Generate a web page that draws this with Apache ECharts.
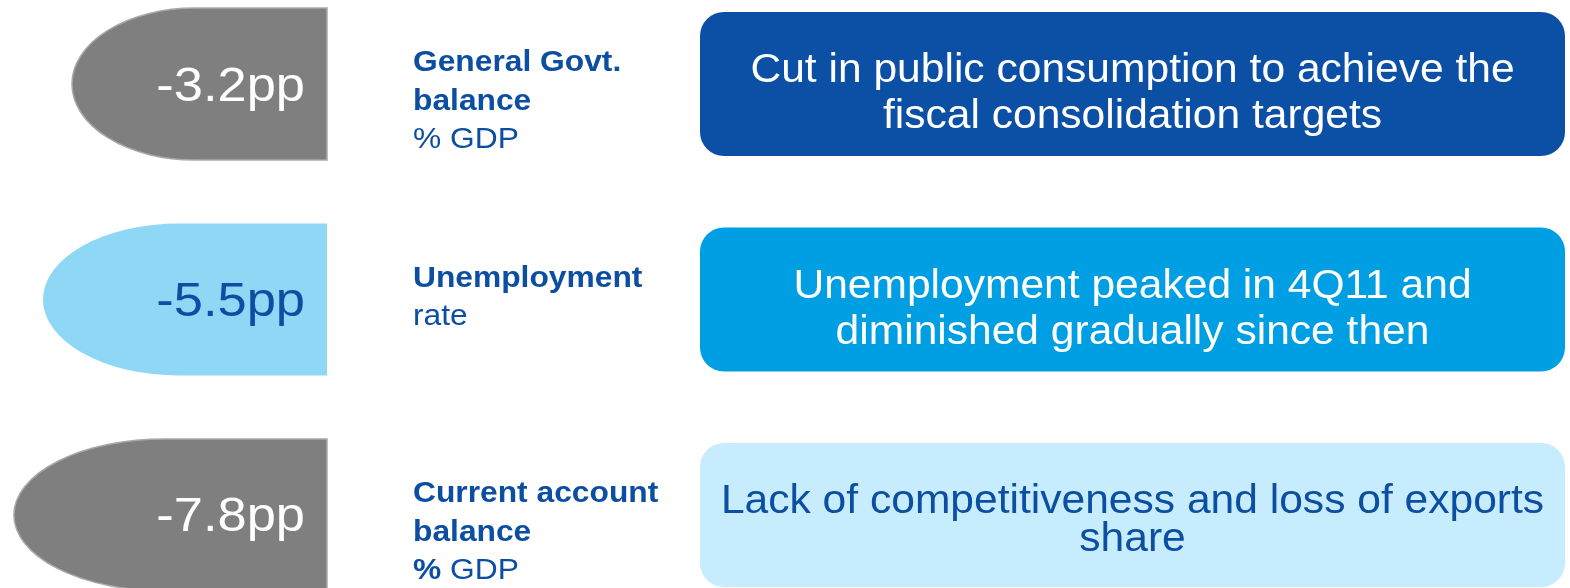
<!DOCTYPE html>
<html>
<head>
<meta charset="utf-8">
<style>
  html, body { margin: 0; padding: 0; background: #ffffff; }
  #chart { width: 1570px; height: 588px; }
</style>
<script src="https://cdn.jsdelivr.net/npm/echarts@6/dist/echarts.min.js"></script>
</head>
<body>
<div id="chart"></div>
<script>
// Indicator rows
const indicators = ['General Govt. balance', 'Unemployment rate', 'Current account balance'];
// Change in each indicator, percentage points
const changes = [-3.2, -5.5, -7.8];
// Indicator captions (bold title lines, then unit line)
const titleLines = [['General Govt.', 'balance'], ['Unemployment'], ['Current account', 'balance']];
const unitLines = ['{n|% GDP}', '{n|rate}', '{b|%}{n| GDP}'];
// Commentary for each indicator
const comments = [
  'Cut in public consumption to achieve the\nfiscal consolidation targets',
  'Unemployment peaked in 4Q11 and\ndiminished gradually since then',
  'Lack of competitiveness and loss of exports\nshare'
];

const FONT = '"Liberation Sans", Arial, Helvetica, sans-serif';
const BLUE_TEXT = '#0b4ea2';
const rowStyles = [
  { fill: '#7f7f7f', stroke: '#a9a9a9', valueColor: '#ffffff', box: '#0b50a4', boxText: '#ffffff', lh: 46, dy: 10 },
  { fill: '#8ed8f6', stroke: null,      valueColor: '#0b4ea2', box: '#009fe3', boxText: '#ffffff', lh: 46, dy: 10 },
  { fill: '#7f7f7f', stroke: '#a9a9a9', valueColor: '#ffffff', box: '#c6ecfd', boxText: '#0b4ea2', lh: 38, dy: 6 }
];

const SHAPE_H = 0.705;           // shape height in row units
const BOX_LEFT = 700, BOX_RIGHT = 1565, BOX_H = 144, BOX_R = 24;
const CAPTION_X = 413;

function renderRow(params, api) {
  const i = params.dataIndex;
  const st = rowStyles[i];
  const v = api.value(0);
  const pt = api.coord([v, api.value(1)]);
  const xl = pt[0], cy = pt[1];
  const xr = params.coordSys.x + params.coordSys.width;
  const h = api.size([0, SHAPE_H])[1];
  const ry = h / 2;
  const rx = (xr - xl) * 0.48;
  const cx = xl + rx;
  const yt = cy - ry, yb = cy + ry;
  const path = 'M' + xr + ' ' + yt + ' L' + cx + ' ' + yt +
    ' A' + rx + ' ' + ry + ' 0 0 0 ' + cx + ' ' + yb +
    ' L' + xr + ' ' + yb + ' Z';

  const titleText = titleLines[i].map(function (t) { return '{b|' + t + '}'; }).join('\n') + '\n' + unitLines[i];

  return {
    type: 'group',
    children: [
      {
        type: 'path',
        shape: { pathData: path },
        style: { fill: st.fill, stroke: st.stroke || st.fill, lineWidth: st.stroke ? 1.5 : 0 }
      },
      {
        type: 'text',
        x: xr - 22, y: cy + 3, scaleX: 1.07,
        style: {
          text: v.toFixed(1) + 'pp',
          x: 0, y: 0,
          align: 'right', verticalAlign: 'middle',
          fill: st.valueColor,
          font: '49px ' + FONT
        }
      },
      {
        type: 'text',
        x: CAPTION_X, y: cy - 40, scaleX: 1.095,
        style: {
          text: titleText,
          x: 0, y: 0,
          align: 'left', verticalAlign: 'top',
          rich: {
            b: { fontFamily: FONT, fontSize: 29, fontWeight: 'bold', fill: BLUE_TEXT, lineHeight: 38.5 },
            n: { fontFamily: FONT, fontSize: 29, fontWeight: 'normal', fill: BLUE_TEXT, lineHeight: 38.5 }
          }
        }
      },
      {
        type: 'rect',
        shape: { x: BOX_LEFT, y: cy - BOX_H / 2, width: BOX_RIGHT - BOX_LEFT, height: BOX_H, r: BOX_R },
        style: { fill: st.box }
      },
      {
        type: 'text',
        x: (BOX_LEFT + BOX_RIGHT) / 2, y: cy + st.dy, scaleX: 1.038,
        style: {
          text: comments[i],
          x: 0, y: 0,
          align: 'center', verticalAlign: 'middle',
          fill: st.boxText,
          font: '41px ' + FONT,
          lineHeight: st.lh
        }
      }
    ]
  };
}

const chart = echarts.init(document.getElementById('chart'), null, { renderer: 'canvas' });
chart.setOption({
  backgroundColor: '#ffffff',
  animation: false,
  grid: { left: 0, top: 0, width: 327, height: 588 },
  xAxis: { type: 'value', min: -8.9, max: 17, show: false },
  yAxis: { type: 'value', min: -0.39, max: 2.339, inverse: true, show: false },
  series: [{
    type: 'custom',
    clip: false,
    renderItem: renderRow,
    data: changes.map(function (v, i) { return [v, i]; })
  }]
});
</script>
</body>
</html>
